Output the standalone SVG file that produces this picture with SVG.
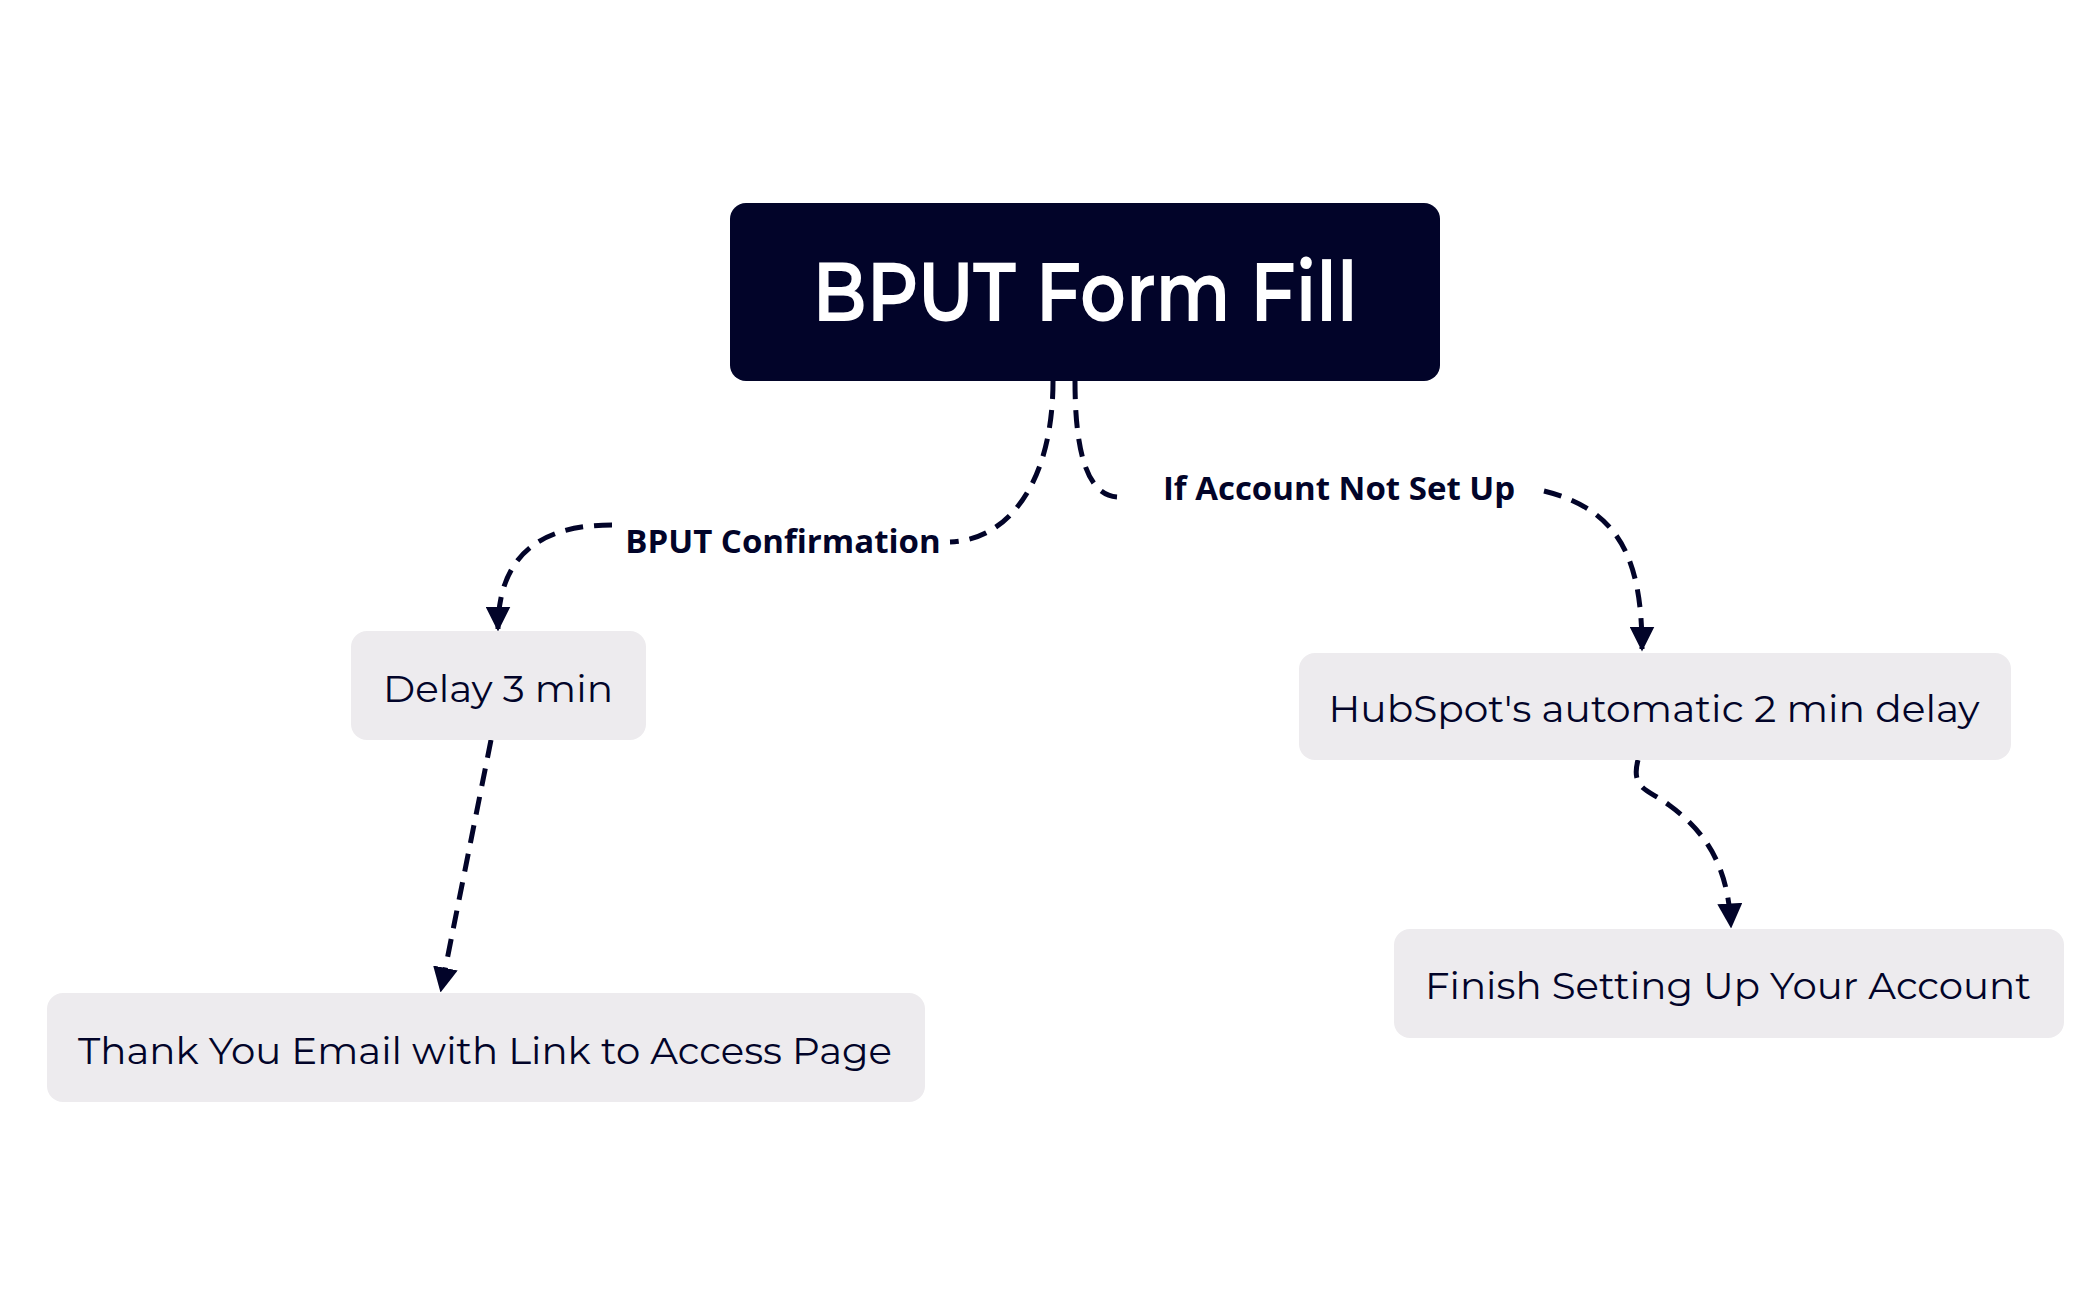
<svg xmlns="http://www.w3.org/2000/svg" width="2100" height="1299" viewBox="0 0 2100 1299">
<style>
.n{fill:#edebee}
.t{font-family:Montserrat,"Open Sans","Noto Sans",sans-serif;font-size:38px;fill:#020429;text-anchor:middle;dominant-baseline:central}
.e{fill:none;stroke:#020429;stroke-width:5;stroke-dasharray:18,11}
.l{font-family:"Open Sans","Noto Sans",sans-serif;font-weight:700;font-size:33px;fill:#020429;text-anchor:middle;dominant-baseline:central}
</style>
<defs><marker id="a" viewBox="0 0 10 10" refX="9" refY="5" markerWidth="5" markerHeight="5" orient="auto" markerUnits="strokeWidth"><path d="M0,0L10,5L0,10z" fill="#020429"/></marker></defs>
<rect width="2100" height="1299" fill="#fff"/>
<g id="edges">
<path class="e" d="M1053,381 C1053,480 1010,540 950,542" />
<path class="e" d="M612,525 C560,525 498,540 498,629" marker-end="url(#a)"/>
<path class="e" d="M491,740 L441,990" marker-end="url(#a)"/>
<path class="e" d="M1075,381 C1075,460 1090,495 1117,497"/>
<path class="e" d="M1544,491 C1620,510 1642,560 1642,649" marker-end="url(#a)"/>
<path class="e" d="M1638,760 C1630,790 1650,790 1669,805 C1710,835 1728,870 1731,926" marker-end="url(#a)"/>
<text class="l" x="783" y="540">BPUT Confirmation</text>
<text class="l" x="1339" y="487">If Account Not Set Up</text>
</g>
<g id="root"><rect x="730" y="203" width="710" height="178" rx="16" fill="#020429"/><text x="1085" y="291" font-family="Montserrat,'Open Sans',sans-serif" font-size="84" font-weight="600" fill="#fff" text-anchor="middle" dominant-baseline="central" textLength="545" lengthAdjust="spacingAndGlyphs">BPUT Form Fill</text></g>
<g id="delay"><rect class="n" x="351" y="631" width="295" height="109" rx="16"/><text class="t" x="498" y="688" textLength="230" lengthAdjust="spacingAndGlyphs">Delay 3 min</text></g>
<g id="thanks"><rect class="n" x="47" y="993" width="878" height="109" rx="16"/><text class="t" x="485" y="1050" textLength="814" lengthAdjust="spacingAndGlyphs">Thank You Email with Link to Access Page</text></g>
<g id="hubspot"><rect class="n" x="1299" y="653" width="712" height="107" rx="16"/><text class="t" x="1654" y="708" textLength="651" lengthAdjust="spacingAndGlyphs">HubSpot's automatic 2 min delay</text></g>
<g id="finish"><rect class="n" x="1394" y="929" width="670" height="109" rx="16"/><text class="t" x="1728" y="985" textLength="606" lengthAdjust="spacingAndGlyphs">Finish Setting Up Your Account</text></g>
</svg>
